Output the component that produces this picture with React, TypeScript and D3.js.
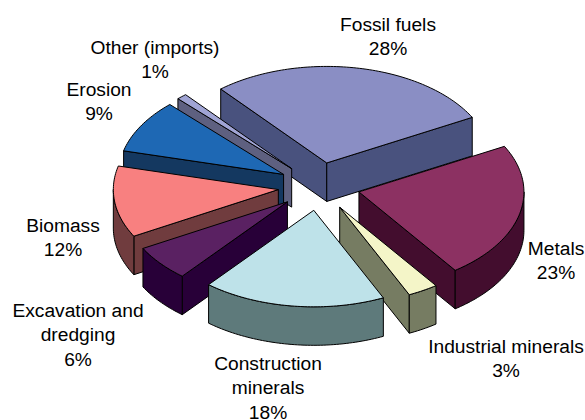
import React from "react";
import * as d3 from "d3";

const categories = ["Fossil fuels", "Metals", "Industrial minerals", "Construction minerals", "Excavation and dredging", "Biomass", "Erosion", "Other (imports)"];
const values = [28.4, 23, 3, 18, 6, 12, 9, 1];
const topColors = ["#8A8EC4", "#8C3162", "#F4F5C8", "#BEE2E9", "#5A2162", "#F88080", "#1E68B4", "#A0A4D4"];
const sideColors = ["#49527E", "#430D2E", "#767C62", "#5E7A7B", "#280038", "#703C3E", "#143860", "#5E6080"];
const labelLines = [["Fossil fuels", "28%"], ["Metals", "23%"], ["Industrial minerals", "3%"], ["Construction", "minerals", "18%"], ["Excavation and", "dredging", "6%"], ["Biomass", "12%"], ["Erosion", "9%"], ["Other (imports)", "1%"]];
const labelAnchors = [[388, 31], [556, 255], [506, 353], [268, 370], [78, 317], [63, 232], [99, 96], [155, 54]];
const paintOrder = [0, 7, 6, 5, 4, 1, 2, 3];

const W = 585, H = 420;
const cx = 319, cy = 186.5, R = 165, tilt = 0.585, explode = 41, depth = 38.5;
const startDeg = -40;

const line = d3.line<[number, number]>().x((d) => d[0]).y((d) => d[1]);

export default function App() {
  const start = (startDeg * Math.PI) / 180;
  const arcs = d3.pie<number>().sort(null).startAngle(start).endAngle(start + 2 * Math.PI)(values);
  const slices = arcs.map((a, i) => {
    const mid = (a.startAngle + a.endAngle) / 2;
    const ox = cx + explode * Math.sin(mid);
    const oy = cy - explode * tilt * Math.cos(mid);
    const pt = (t: number, dz = 0): [number, number] => [ox + R * Math.sin(t), oy - R * tilt * Math.cos(t) + dz];
    const sample = (a0: number, a1: number, dz = 0) => {
      const n = Math.max(2, Math.ceil(Math.abs(a1 - a0) / 0.02));
      return d3.range(n + 1).map((k) => pt(a0 + ((a1 - a0) * k) / n, dz));
    };
    const apex: [number, number] = [ox, oy];
    const apexB: [number, number] = [ox, oy + depth];
    const faces: string[] = [];
    if (Math.sin(a.startAngle) < 0) faces.push(line([apex, pt(a.startAngle), pt(a.startAngle, depth), apexB])! + "Z");
    if (Math.sin(a.endAngle) > 0) faces.push(line([apex, pt(a.endAngle), pt(a.endAngle, depth), apexB])! + "Z");
    const w0 = Math.max(a.startAngle, Math.PI / 2);
    const w1 = Math.min(a.endAngle, (3 * Math.PI) / 2);
    if (w1 > w0) faces.push(line([...sample(w0, w1), ...sample(w1, w0, depth)])! + "Z");
    const top = line([apex, ...sample(a.startAngle, a.endAngle)])! + "Z";
    return { faces, top, i };
  });

  return (
    <svg width={W} height={H} viewBox={`0 0 ${W} ${H}`} style={{ position: "absolute", left: 0, top: 0, background: "#fff" }}>
      {paintOrder.map((i) => (
        <g key={categories[i]} stroke="#000" strokeWidth={1} strokeLinejoin="round">
          {slices[i].faces.map((d, k) => (
            <path key={k} d={d} fill={sideColors[i]} />
          ))}
          <path d={slices[i].top} fill={topColors[i]} />
        </g>
      ))}
      <g fontFamily="'Liberation Sans', Arial, sans-serif" fontSize={19.2} fill="#000" textAnchor="middle">
        {labelLines.map((lines, i) => (
          <text key={i} x={labelAnchors[i][0]} y={labelAnchors[i][1]}>
            {lines.map((t, k) => (
              <tspan key={k} x={labelAnchors[i][0]} dy={k === 0 ? 0 : 24.4}>{t}</tspan>
            ))}
          </text>
        ))}
      </g>
    </svg>
  );
}
